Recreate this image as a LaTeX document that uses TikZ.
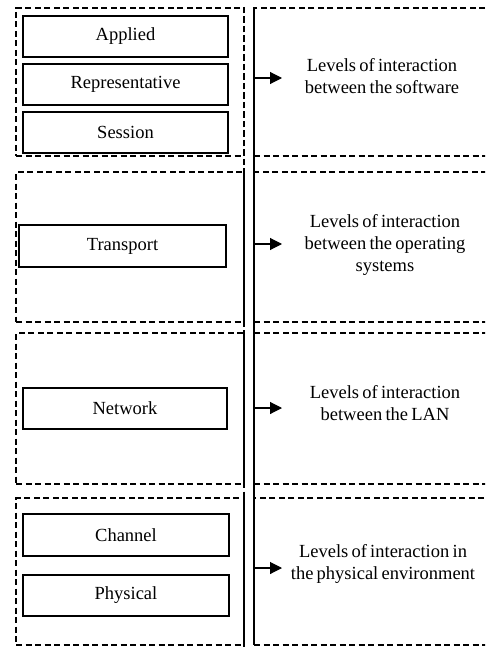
\documentclass[tikz,border=0pt]{standalone}
\usepackage{fontspec}
\setmainfont{Liberation Serif}[WordSpace=0.7]
\usetikzlibrary{arrows.meta}
\begin{document}
\begin{tikzpicture}[x=1pt,y=-1pt,
  dashline/.style={dash pattern=on 6pt off 3.5pt, line width=1.1pt},
  group/.style={draw, dashline, inner sep=0pt, minimum width=228pt},
  rgroup/.style={draw, dashline, inner sep=0pt, minimum width=241pt},
  layer/.style={draw, line width=1.1pt, inner sep=0pt, minimum height=41pt,
    font=\fontsize{18.5}{22}\selectfont},
  desc/.style={align=center, inner sep=0pt, font=\fontsize{18.5}{22}\selectfont},
  arr/.style={line width=1.1pt, -{Triangle[length=12pt,width=12pt]}}]
\path[use as bounding box] (0,0) rectangle (485,647);
\clip (0,0) rectangle (485,647);

% section 1
\node[group, minimum height=148pt] (g1) at (130,82) {};
\node[rgroup, minimum height=148pt] (r1) at (374.5,82) {};
\node[layer, minimum width=205pt] (applied) at (125.5,36.5) {Applied};
\node[layer, minimum width=205pt] (repr) at (125.5,84.5) {Representative};
\node[layer, minimum width=205pt] (session) at (125.5,132.5) {Session};
\node[desc] (d1) at (382,76) {Levels of interaction\\between the software};
\coordinate (a1s) at (254,78);
\coordinate (a1e) at (282,78);

% section 2
\node[group, minimum height=150pt] (g2) at (130,247) {};
\node[rgroup, minimum height=150pt] (r2) at (374.5,247) {};
\node[layer, minimum width=207pt, minimum height=42pt] (transport) at (122.5,246) {Transport};
\node[desc] (d2) at (385,245) {Levels of interaction\\between the operating\\systems};
\coordinate (a2s) at (254,244);
\coordinate (a2e) at (282,244);

% section 3
\node[group, minimum height=151pt] (g3) at (130,408.5) {};
\node[rgroup, minimum height=151pt] (r3) at (374.5,408.5) {};
\node[layer, minimum width=204pt] (network) at (125,408.5) {Network};
\node[desc] (d3) at (385,403) {Levels of interaction\\between the LAN};
\coordinate (a3s) at (254,408);
\coordinate (a3e) at (282,408);

% section 4
\node[group, minimum height=147pt] (g4) at (130,571.5) {};
\node[rgroup, minimum height=147pt] (r4) at (374.5,571.5) {};
\node[layer, minimum width=206pt, minimum height=42pt] (channel) at (126,535) {Channel};
\node[layer, minimum width=206pt] (physical) at (126,595.5) {Physical};
\node[desc] (d4) at (383,564) {Levels of interaction in\\the physical environment};
\coordinate (a4s) at (254,568);
\coordinate (a4e) at (282,568);

% vertical lines
\coordinate (vt) at (244,7);
\coordinate (vb) at (244,647);
\coordinate (st) at (254,8);
\coordinate (sb) at (254,645);
\draw[dashline] (vt) -- (vb);
\draw[line width=1.1pt] (st) -- (sb);

% arrows
\draw[arr] (a1s) -- (a1e);
\draw[arr] (a2s) -- (a2e);
\draw[arr] (a3s) -- (a3e);
\draw[arr] (a4s) -- (a4e);
\end{tikzpicture}
\end{document}
